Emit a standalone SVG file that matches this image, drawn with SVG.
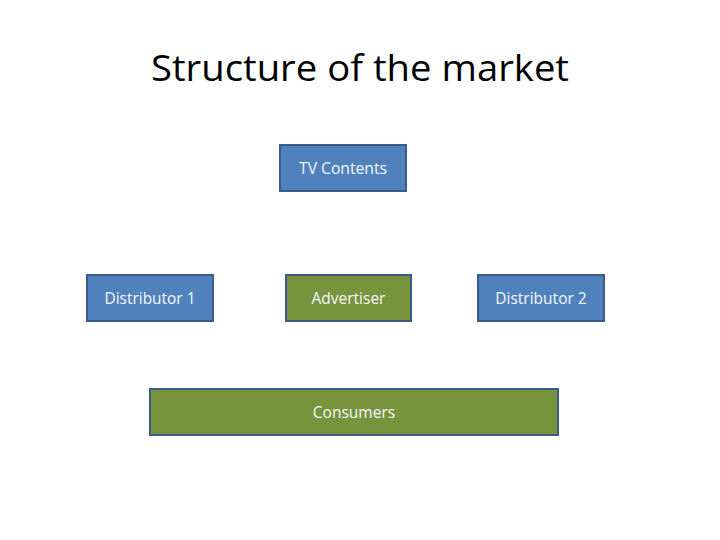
<svg xmlns="http://www.w3.org/2000/svg" width="720" height="540" viewBox="0 0 720 540">
<style>
.blue{fill:#4F81BD;stroke:#385D8A;stroke-width:2}
.green{fill:#77933C;stroke:#385D8A;stroke-width:2}
.lbl{font-family:"Open Sans","Liberation Sans",sans-serif;font-size:15.5px;fill:#F4F8FC;text-anchor:middle;dominant-baseline:central}
.title{font-family:"Open Sans","Liberation Sans",sans-serif;font-size:36px;fill:#000000;text-anchor:middle}
</style>
<rect width="720" height="540" fill="#FFFFFF"/>
<text class="title" x="360" y="81" textLength="418" lengthAdjust="spacingAndGlyphs">Structure of the market</text>
<g id="connectors"></g>
<g id="tv-contents"><rect class="blue" x="280" y="145" width="126" height="46"/><text class="lbl" x="343" y="167.500" textLength="88" lengthAdjust="spacingAndGlyphs">TV Contents</text></g>
<g id="distributor-1"><rect class="blue" x="87" y="275" width="126" height="46"/><text class="lbl" x="150" y="297.500" textLength="91" lengthAdjust="spacingAndGlyphs">Distributor 1</text></g>
<g id="advertiser"><rect class="green" x="286" y="275" width="125" height="46"/><text class="lbl" x="348.500" y="297.500">Advertiser</text></g>
<g id="distributor-2"><rect class="blue" x="478" y="275" width="126" height="46"/><text class="lbl" x="541" y="297.500">Distributor 2</text></g>
<g id="consumers"><rect class="green" x="150" y="389" width="408" height="46"/><text class="lbl" x="354" y="411.500">Consumers</text></g>
</svg>
